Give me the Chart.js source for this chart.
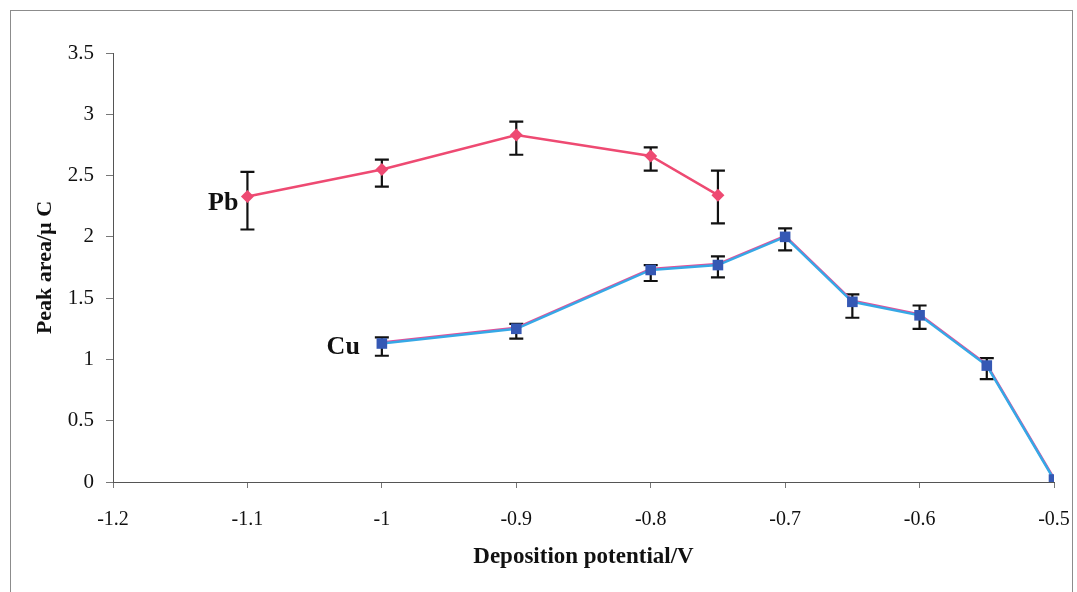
<!DOCTYPE html>
<html>
<head>
<meta charset="utf-8">
<script src="https://cdn.jsdelivr.net/npm/chart.js@4/dist/chart.umd.min.js"></script>
<style>
  body { margin: 0; background: #fff; }
  #wrap { position: relative; width: 1077px; height: 592px; overflow: hidden; }
  #frame { position: absolute; left: 10px; top: 10px; width: 1063px; height: 600px; border: 1px solid #8c8c8c; box-sizing: border-box; }
  #peakChart { position: absolute; left: 0; top: 0; }
</style>
</head>
<body>
<div id="wrap">
  <div id="frame"></div>
  <canvas id="peakChart" width="1077" height="592"></canvas>
</div>
<script>
// Potencial de deposição (V) e área de pico (µC)
const pbPotential = [-1.1, -1.0, -0.9, -0.8, -0.75];
const pbArea      = [2.33, 2.55, 2.83, 2.66, 2.34];
const pbErrHigh   = [2.53, 2.63, 2.94, 2.73, 2.54];
const pbErrLow    = [2.06, 2.41, 2.67, 2.54, 2.11];

const cuPotential = [-1.0, -0.9, -0.8, -0.75, -0.7, -0.65, -0.6, -0.55, -0.5];
const cuArea      = [1.13, 1.25, 1.73, 1.77, 2.00, 1.47, 1.36, 0.95, 0.02];
const cuErrHigh   = [1.18, 1.29, 1.77, 1.84, 2.07, 1.53, 1.44, 1.01, null];
const cuErrLow    = [1.03, 1.17, 1.64, 1.67, 1.89, 1.34, 1.25, 0.84, null];

const xTicks = [-1.2, -1.1, -1.0, -0.9, -0.8, -0.7, -0.6, -0.5];
const yTicks = [0, 0.5, 1, 1.5, 2, 2.5, 3, 3.5];

const seriesLabels = ['Pb', 'Cu'];

const SERIF = '"Liberation Serif", "DejaVu Serif", serif';

function toPoints(xs, ys) {
    return xs.map((x, i) => ({ x: x, y: ys[i] }));
}

/**
 * Barras de erro (desenhadas antes das linhas, ficam sob os marcadores)
 */
const errorBars = {
    id: 'errorBars',
    beforeDatasetsDraw(chart) {
        const ctx = chart.ctx;
        const xs = chart.scales.x;
        const ys = chart.scales.y;
        const sets = [
            [pbPotential, pbErrHigh, pbErrLow],
            [cuPotential, cuErrHigh, cuErrLow]
        ];
        ctx.save();
        ctx.strokeStyle = '#111';
        ctx.lineWidth = 2.2;
        sets.forEach(([px, hi, lo]) => {
            px.forEach((v, i) => {
                if (hi[i] == null) return;
                const x = xs.getPixelForValue(v);
                const y1 = ys.getPixelForValue(hi[i]);
                const y2 = ys.getPixelForValue(lo[i]);
                ctx.beginPath();
                ctx.moveTo(x, y1); ctx.lineTo(x, y2);
                ctx.moveTo(x - 7, y1); ctx.lineTo(x + 7, y1);
                ctx.moveTo(x - 7, y2); ctx.lineTo(x + 7, y2);
                ctx.stroke();
            });
        });
        ctx.restore();
    },
    // rótulo da série ao lado do primeiro ponto
    afterDatasetsDraw(chart) {
        const ctx = chart.ctx;
        const xs = chart.scales.x;
        const ys = chart.scales.y;
        ctx.save();
        ctx.font = 'bold 26px ' + SERIF;
        ctx.fillStyle = '#111';
        ctx.textAlign = 'right';
        ctx.textBaseline = 'middle';
        ctx.fillText(seriesLabels[0], xs.getPixelForValue(pbPotential[0]) - 9, ys.getPixelForValue(pbArea[0]) + 7);
        ctx.fillText(seriesLabels[1], xs.getPixelForValue(cuPotential[0]) - 22, ys.getPixelForValue(cuArea[0]) + 4);
        ctx.restore();
    }
};

// Linha rosa do Cu deslocada 1px para cima (contorno da linha azul)
const cuShadow = {
    id: 'cuShadow',
    beforeDatasetDraw(chart, args) {
        if (args.index === 1) {
            chart.ctx.save();
            chart.ctx.translate(0, -1);
        }
    },
    afterDatasetDraw(chart, args) {
        if (args.index === 1) chart.ctx.restore();
    }
};

const ctx = document.getElementById('peakChart');

new Chart(ctx, {
    type: 'scatter',
    data: {
        datasets: [
            {
                label: 'Pb',
                data: toPoints(pbPotential, pbArea),
                showLine: true,
                borderColor: '#ee4a72',
                borderWidth: 2.5,
                backgroundColor: '#ee4a72',
                pointStyle: 'rectRot',
                pointRadius: 6.5,
                pointBorderWidth: 0,
                order: 2
            },
            {
                label: 'Cu-contorno',
                data: toPoints(cuPotential, cuArea),
                showLine: true,
                borderColor: '#e24f9a',
                borderWidth: 2.5,
                pointRadius: 0,
                order: 1
            },
            {
                label: 'Cu',
                data: toPoints(cuPotential, cuArea),
                showLine: true,
                borderColor: '#36a8e6',
                borderWidth: 2.5,
                backgroundColor: '#3558b4',
                pointStyle: 'rect',
                pointRadius: 7.5,
                pointBorderWidth: 0,
                order: 0
            }
        ]
    },
    options: {
        responsive: false,
        animation: false,
        events: [],
        layout: {
            padding: { left: 0, right: 23, top: 53, bottom: 0 }
        },
        plugins: {
            legend: { display: false },
            tooltip: { enabled: false }
        },
        scales: {
            x: {
                type: 'linear',
                min: -1.2,
                max: -0.5,
                afterFit(scale) { scale.height = 110; },
                afterBuildTicks(scale) { scale.ticks = xTicks.map(v => ({ value: v })); },
                border: { display: true, color: '#555', width: 1 },
                grid: { display: true, drawOnChartArea: false, drawTicks: true, tickLength: 6, color: '#777' },
                ticks: {
                    color: '#111',
                    padding: 4,
                    font: { family: SERIF, size: 20, lineHeight: 2.8 },
                    callback: v => String(Math.round(v * 10) / 10)
                },
                title: {
                    display: true,
                    text: 'Deposition potential/V',
                    color: '#111',
                    font: { family: SERIF, size: 23, weight: 'bold' },
                    padding: { top: 0, bottom: 21 }
                }
            },
            y: {
                min: 0,
                max: 3.5,
                afterFit(scale) { scale.width = 113; },
                afterBuildTicks(scale) { scale.ticks = yTicks.map(v => ({ value: v })); },
                border: { display: true, color: '#555', width: 1 },
                grid: { display: true, drawOnChartArea: false, drawTicks: true, tickLength: 7, color: '#777' },
                ticks: {
                    color: '#111',
                    padding: 12,
                    font: { family: SERIF, size: 21 },
                    callback: v => String(Math.round(v * 10) / 10)
                },
                title: {
                    display: true,
                    text: 'Peak area/\u00b5 C',
                    color: '#111',
                    font: { family: SERIF, size: 22, weight: 'bold' },
                    padding: { top: 32, bottom: 0 }
                }
            }
        }
    },
    plugins: [errorBars, cuShadow]
});
</script>
</body>
</html>
